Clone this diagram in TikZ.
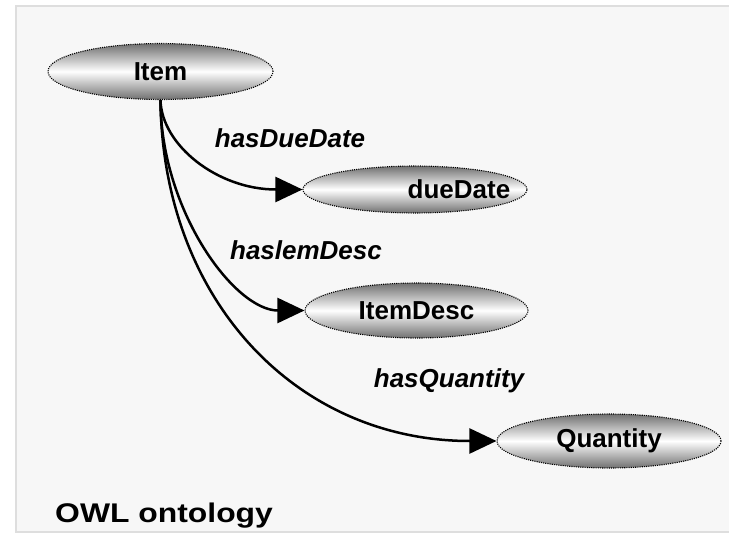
\documentclass[tikz,border=0pt]{standalone}
\usepackage{fontspec}
\setmainfont{Liberation Sans}
\usetikzlibrary{shapes.geometric,arrows.meta}
\definecolor{panel}{RGB}{247,247,247}
\definecolor{panelline}{RGB}{222,222,222}
\definecolor{shadedark}{RGB}{112,112,112}
\begin{document}
\begin{tikzpicture}[x=1pt,y=-1pt,
  cls/.style={ellipse, draw=black, line width=1.1pt, dash pattern=on 1.1pt off 1.1pt,
    top color=shadedark, bottom color=shadedark, middle color=white,
    inner sep=0pt, font=\fontsize{26}{30}\selectfont\bfseries},
  clstext/.style={inner sep=0pt, font=\fontsize{26}{30}\selectfont\bfseries},
  rel/.style={inner sep=0pt, font=\fontsize{26}{30}\selectfont\bfseries\itshape},
  link/.style={line width=2.5pt, -{Triangle[length=27pt,width=25pt]}},
  title/.style={inner sep=0pt, font=\fontsize{27}{32}\selectfont\bfseries}
]
\useasboundingbox (0,0) rectangle (729,533);
\fill[white] (0,0) rectangle (729,533);
\fill[panel] (16,6) rectangle (729,532);
\draw[panelline, line width=2pt] (729,532) -- (16,532) -- (16,6) -- (729,6);

\node[cls, minimum width=225pt, minimum height=56pt] (item) at (160.5,71.5) {Item};
\node[cls, minimum width=224pt, minimum height=47pt] (due) at (415,189.5) {};
\node[clstext] (duetext) at (459,189.5) {dueDate};
\node[cls, minimum width=223pt, minimum height=55pt] (desc) at (416.5,310.5) {ItemDesc};
\node[cls, minimum width=224pt, minimum height=54pt] (qty) at (609,441) {Quantity};

\node[rel] (l1) at (290,138) {hasDueDate};
\node[rel] (l2) at (306,250) {haslemDesc};
\node[rel] (l3) at (449,381) {hasQuantity};

\draw[link] (item.south) .. controls +(1,45) and +(-85,0) .. (due.west);
\draw[link] (item.south) .. controls +(0,110) and +(-70,0) .. (desc.west);
\draw[link] (item.south) .. controls +(2,200) and +(-200,0) .. (qty.west);

\node[title, anchor=base west, xscale=1.18] (owl) at (55,522) {OWL ontology};
\end{tikzpicture}
\end{document}
